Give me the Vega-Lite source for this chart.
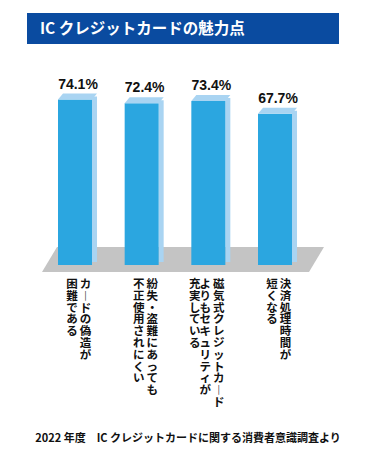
{
  "$schema": "https://vega.github.io/schema/vega-lite/v6.json",
  "padding": {"left": 27, "top": 13, "right": 0, "bottom": 0},
  "background": "white",
  "config": {"view": {"stroke": null}, "font": "Noto Sans CJK JP", "concat": {"spacing": 20}},
  "datasets": {
    "main": [
      {"item": "カードの偽造が困難である", "value": 0.741},
      {"item": "紛失・盗難にあっても不正使用されにくい", "value": 0.724},
      {"item": "磁気式クレジットカードよりもセキュリティが充実している", "value": 0.734},
      {"item": "決済処理時間が短くなる", "value": 0.677}
    ],
    "labels": [
      {"item": "カードの偽造が困難である", "col": 0, "text": "カ\n︱\nド\nの\n偽\n造\nが"},
      {"item": "カードの偽造が困難である", "col": 1, "text": "困\n難\nで\nあ\nる"},
      {"item": "紛失・盗難にあっても不正使用されにくい", "col": 0, "text": "紛\n失\n・\n盗\n難\nに\nあ\nっ\nて\nも"},
      {"item": "紛失・盗難にあっても不正使用されにくい", "col": 1, "text": "不\n正\n使\n用\nさ\nれ\nに\nく\nい"},
      {"item": "磁気式クレジットカードよりもセキュリティが充実している", "col": 0, "text": "磁\n気\n式\nク\nレ\nジ\nッ\nト\nカ\n︱\nド"},
      {"item": "磁気式クレジットカードよりもセキュリティが充実している", "col": 1, "text": "よ\nり\nも\nセ\nキ\nュ\nリ\nテ\nィ\nが"},
      {"item": "磁気式クレジットカードよりもセキュリティが充実している", "col": 2, "text": "充\n実\nし\nて\nい\nる"},
      {"item": "決済処理時間が短くなる", "col": 0, "text": "決\n済\n処\n理\n時\n間\nが"},
      {"item": "決済処理時間が短くなる", "col": 1, "text": "短\nく\nな\nる"}
    ],
    "floor": [{"part": "floor"}],
    "title": [{"title": "IC クレジットカードの魅力点"}]
  },
  "title": {
    "text": "2022 年度　IC クレジットカードに関する消費者意識調査より",
    "orient": "bottom",
    "anchor": "middle",
    "fontSize": 11,
    "fontWeight": "bold",
    "font": "Noto Sans CJK JP",
    "color": "#111111",
    "offset": 24,
    "dx": 5
  },
  "vconcat": [
    {
      "width": 312,
      "height": 31,
      "view": {"fill": "#0a4ba0", "stroke": null},
      "data": {"name": "title"},
      "mark": {"type": "text", "align": "left", "baseline": "middle", "xOffset": -143, "fontSize": 15.5, "fontWeight": "bold", "color": "white", "font": "Noto Sans CJK JP"},
      "encoding": {"text": {"field": "title", "type": "nominal"}}
    },
    {
      "width": 296,
      "height": 201,
      "encoding": {
        "x": {"field": "item", "type": "nominal", "sort": null, "axis": null,
              "scale": {"paddingInner": 0, "paddingOuter": 0.22}}
      },
      "layer": [
        {
          "data": {"name": "floor"},
          "mark": {"type": "point", "filled": true, "opacity": 1, "color": "#c4c4c4", "strokeWidth": 0,
                   "shape": "M -0.84 -0.0833 L 0.94 -0.0833 L 0.84 0.0833 L -0.94 0.0833 Z",
                   "size": 90000, "xOffset": 8, "yOffset": -5.5},
          "encoding": {"x": null, "y": {"datum": 0, "type": "quantitative", "scale": {"domain": [0, 0.84]}, "axis": null}}
        },
        {
          "data": {"name": "main"},
          "mark": {"type": "bar", "width": 5, "xOffset": 19.5, "yOffset": -3, "color": "#a9d4f2"},
          "encoding": {"y": {"field": "value", "type": "quantitative", "scale": {"domain": [0, 0.84]}, "axis": null}}
        },
        {
          "data": {"name": "main"},
          "mark": {"type": "bar", "width": 34, "color": "#2ba6e0"},
          "encoding": {"y": {"field": "value", "type": "quantitative", "axis": null}}
        },
        {
          "data": {"name": "main"},
          "mark": {"type": "point", "filled": true, "opacity": 1, "color": "#a9d4f2", "strokeWidth": 0,
                   "shape": "M -0.975 0.15 L 0.725 0.15 L 0.975 -0.15 L -0.725 -0.15 Z",
                   "size": 1600, "xOffset": 2.5, "yOffset": -3},
          "encoding": {"y": {"field": "value", "type": "quantitative", "axis": null}}
        },
        {
          "data": {"name": "main"},
          "mark": {"type": "text", "baseline": "alphabetic", "yOffset": -11, "xOffset": 3, "fontSize": 14, "fontWeight": "bold", "font": "Liberation Sans", "color": "#111111"},
          "encoding": {"y": {"field": "value", "type": "quantitative", "axis": null},
                       "text": {"field": "value", "type": "quantitative", "format": ".1%"}}
        },
        {
          "data": {"name": "labels"},
          "transform": [{"filter": "datum.col == 0"}],
          "mark": {"type": "text", "baseline": "top", "align": "center", "lineBreak": "\n", "lineHeight": 11.8, "yOffset": 14, "xOffset": 10.5, "fontSize": 11.5, "fontWeight": "bold", "color": "#111111", "font": "Noto Sans CJK JP"},
          "encoding": {"y": {"datum": 0, "type": "quantitative"}, "text": {"field": "text", "type": "nominal"}}
        },
        {
          "data": {"name": "labels"},
          "transform": [{"filter": "datum.col == 1"}],
          "mark": {"type": "text", "baseline": "top", "align": "center", "lineBreak": "\n", "lineHeight": 11.8, "yOffset": 14, "xOffset": -3, "fontSize": 11.5, "fontWeight": "bold", "color": "#111111", "font": "Noto Sans CJK JP"},
          "encoding": {"y": {"datum": 0, "type": "quantitative"}, "text": {"field": "text", "type": "nominal"}}
        },
        {
          "data": {"name": "labels"},
          "transform": [{"filter": "datum.col == 2"}],
          "mark": {"type": "text", "baseline": "top", "align": "center", "lineBreak": "\n", "lineHeight": 11.8, "yOffset": 14, "xOffset": -13.5, "fontSize": 11.5, "fontWeight": "bold", "color": "#111111", "font": "Noto Sans CJK JP"},
          "encoding": {"y": {"datum": 0, "type": "quantitative"}, "text": {"field": "text", "type": "nominal"}}
        }
      ]
    }
  ]
}
